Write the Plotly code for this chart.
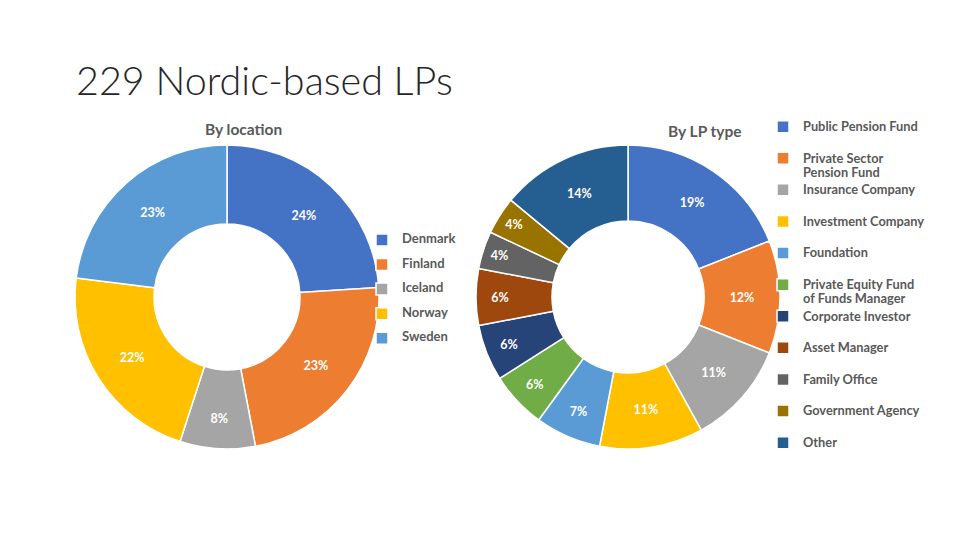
import plotly.graph_objects as go

# ---- data ----
loc_labels = ["Denmark", "Finland", "Iceland", "Norway", "Sweden"]
loc_values = [24, 23, 8, 22, 23]
loc_colors = ["#4472C4", "#ED7D31", "#A5A5A5", "#FFC000", "#5B9BD5"]

lp_labels = ["Public Pension Fund", "Private Sector<br>Pension Fund", "Insurance Company",
             "Investment Company", "Foundation", "Private Equity Fund<br>of Funds Manager",
             "Corporate Investor", "Asset Manager", "Family Office",
             "Government Agency", "Other"]
lp_values = [19, 12, 11, 11, 7, 6, 6, 6, 4, 4, 14]
lp_colors = ["#4472C4", "#ED7D31", "#A5A5A5", "#FFC000", "#5B9BD5", "#70AD47",
             "#264478", "#9E480E", "#636363", "#997300", "#255E91"]

title_text = "229 Nordic-based LPs"
sub_titles = ["By location", "By LP type"]

W, H = 960, 540
OFF = 8  # page body margin
FONT = "Lato"

def px_x(v):
    return (v - OFF) / W

def px_y(v):
    return 1 - (v - OFF) / H

def big(s, size):
    return "<br>".join('<span style="font-size:%spx">%s</span>' % (size, part) for part in s.split("<br>"))

# legend label helpers (pad to uniform slot heights)
loc_legend = [big(l, 13) + "<br> " for l in loc_labels]
lp_legend = [big(l, 12.8) if "<br>" in l else big(l, 12.8) + "<br> " for l in lp_labels]

fig = go.Figure()

R = 152
fig.add_trace(go.Pie(
    labels=loc_legend, values=loc_values, sort=False, direction="clockwise", rotation=0,
    hole=0.48, marker=dict(colors=loc_colors, line=dict(color="white", width=1.5)),
    texttemplate="%{value}%", textposition="inside", insidetextorientation="horizontal",
    textfont=dict(family=FONT, size=12.5, color="white", weight="bold"),
    domain=dict(x=[px_x(227 - R), px_x(227 + R)], y=[px_y(297 + R), px_y(297 - R)]),
    legend="legend", hoverinfo="label+percent",
))

fig.add_trace(go.Pie(
    labels=lp_legend, values=lp_values, sort=False, direction="clockwise", rotation=0,
    hole=0.5, marker=dict(colors=lp_colors, line=dict(color="white", width=1.5)),
    texttemplate="%{value}%", textposition="inside", insidetextorientation="horizontal",
    textfont=dict(family=FONT, size=12.5, color="white", weight="bold"),
    domain=dict(x=[px_x(628 - R), px_x(628 + R)], y=[px_y(297 + R), px_y(297 - R)]),
    legend="legend2", hoverinfo="label+percent",
))

annotations = [
    dict(text=title_text, x=px_x(74), y=px_y(80), xref="paper", yref="paper",
         xanchor="left", yanchor="middle", showarrow=False,
         font=dict(family=FONT, size=39.5, color="#262626", weight=300)),
    dict(text="<b>%s</b>" % sub_titles[0], x=px_x(243), y=px_y(129), xref="paper", yref="paper",
         xanchor="center", yanchor="middle", showarrow=False,
         font=dict(family=FONT, size=15.5, color="#595959")),
    dict(text="<b>%s</b>" % sub_titles[1], x=px_x(705), y=px_y(131), xref="paper", yref="paper",
         xanchor="center", yanchor="middle", showarrow=False,
         font=dict(family=FONT, size=15.5, color="#595959")),
]

fig.update_layout(
    width=W, height=H, margin=dict(l=0, r=0, t=0, b=0),
    paper_bgcolor="white", plot_bgcolor="white",
    annotations=annotations,
    showlegend=True,
    legend=dict(x=px_x(362), y=px_y(228), xanchor="left", yanchor="top",
                font=dict(family=FONT, size=8.3, color="#595959", weight="bold"),
                valign="top", bgcolor="rgba(0,0,0,0)", traceorder="normal"),
    legend2=dict(x=px_x(763), y=px_y(113), xanchor="left", yanchor="top",
                 font=dict(family=FONT, size=11, color="#595959", weight="bold"),
                 valign="top", bgcolor="rgba(0,0,0,0)", traceorder="normal"),
)

fig.write_html("out.html")
